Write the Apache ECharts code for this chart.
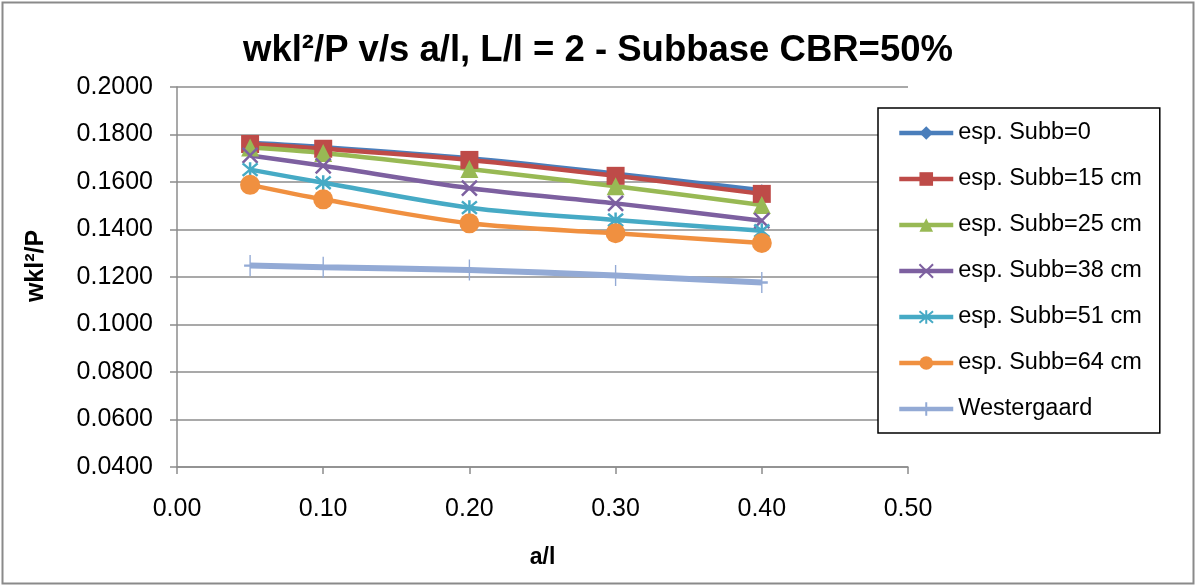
<!DOCTYPE html>
<html>
<head>
<meta charset="utf-8">
<title>wkl²/P v/s a/l</title>
<script src="https://cdn.jsdelivr.net/npm/echarts@6/dist/echarts.min.js"></script>
<style>
  html, body { margin: 0; padding: 0; background: #fff; }
  #chart { width: 1196px; height: 586px; }
</style>
</head>
<body>
<div id="chart"></div>
<script>
// a/l ratios where each subbase thickness was evaluated
const ratios = [0.05, 0.10, 0.20, 0.30, 0.40];

// wkl²/P for each subbase thickness, plus Westergaard's solution
const subb0  = [0.1765, 0.1747, 0.1700, 0.1635, 0.1565];
const subb15 = [0.1760, 0.1740, 0.1693, 0.1626, 0.1550];
const subb25 = [0.1745, 0.1722, 0.1655, 0.1582, 0.1503];
const subb38 = [0.1712, 0.1668, 0.1574, 0.1510, 0.1437];
const subb51 = [0.1652, 0.1597, 0.1492, 0.1440, 0.1395];
const subb64 = [0.1588, 0.1527, 0.1426, 0.1384, 0.1343];
const westergaard = [0.1248, 0.1241, 0.1229, 0.1206, 0.1177];

const seriesNames = [
  'esp. Subb=0', 'esp. Subb=15 cm', 'esp. Subb=25 cm', 'esp. Subb=38 cm',
  'esp. Subb=51 cm', 'esp. Subb=64 cm', 'Westergaard'
];
const seriesValues = [subb0, subb15, subb25, subb38, subb51, subb64, westergaard];

// axis ranges
const yMin = 0.04, yMax = 0.20, yStep = 0.02;
const xMin = 0.00, xMax = 0.50, xStep = 0.10;

const FONT = '"Liberation Sans", Arial, sans-serif';

// marker look per series
const looks = [
  { color: '#4A7EBB', symbol: 'diamond', size: 12, width: 4.5 },
  { color: '#BE4B48', symbol: 'rect', size: 18, width: 4.5 },
  { color: '#98B954', symbol: 'triangle', size: 18, width: 4.5 },
  { color: '#7D60A0', symbol: 'path://M0,0L10,10M10,0L0,10', size: 15, width: 4.5, stroke: 2.5 },
  { color: '#46AAC5', symbol: 'path://M0,0L10,10M10,0L0,10M5,-1L5,11', size: 15, width: 4.5, stroke: 2.5 },
  { color: '#F09040', symbol: 'circle', size: 20, width: 4.5 },
  { color: '#93AAD5', symbol: 'path://M5,0L5,20M0,10L10,10', size: [12, 21], width: 6, stroke: 1.8 }
];

const series = seriesNames.map((name, i) => {
  const look = looks[i];
  const itemStyle = { color: look.color };
  if (look.stroke) {
    itemStyle.borderColor = look.color;
    itemStyle.borderWidth = look.stroke;
  }
  return {
    name: name,
    type: 'line',
    smooth: 0.3,
    data: ratios.map((r, k) => [r, seriesValues[i][k]]),
    symbol: look.symbol,
    symbolSize: look.size,
    showAllSymbol: true,
    lineStyle: { color: look.color, width: look.width },
    itemStyle: itemStyle,
    emphasis: { disabled: true }
  };
});

const chart = echarts.init(document.getElementById('chart'), null, { renderer: 'canvas' });

chart.setOption({
  animation: false,
  backgroundColor: '#ffffff',
  textStyle: { fontFamily: FONT },
  title: {
    text: 'wkl²/P v/s a/l, L/l = 2 - Subbase CBR=50%',
    left: 'center',
    top: 27,
    textStyle: { fontFamily: FONT, fontSize: 36.5, fontWeight: 'bold', color: '#000' }
  },
  grid: { left: 177, right: 288, top: 87, bottom: 119 },
  xAxis: {
    type: 'value',
    min: xMin, max: xMax, interval: xStep,
    name: 'a/l',
    nameLocation: 'middle',
    nameGap: 79,
    nameTextStyle: { fontFamily: FONT, fontSize: 23, fontWeight: 'bold', color: '#000' },
    axisLine: { show: true, onZero: false, lineStyle: { color: '#8c8c8c', width: 1.5 } },
    axisTick: { show: true, inside: false, length: 7, lineStyle: { color: '#8c8c8c', width: 1.5 } },
    axisLabel: {
      margin: 30, fontSize: 25, color: '#000', fontFamily: FONT,
      formatter: v => v.toFixed(2)
    },
    splitLine: { show: false }
  },
  yAxis: {
    type: 'value',
    min: yMin, max: yMax, interval: yStep,
    axisLine: { show: true, lineStyle: { color: '#8c8c8c', width: 1.5 } },
    axisTick: { show: true, inside: false, length: 7, lineStyle: { color: '#8c8c8c', width: 1.5 } },
    axisLabel: {
      margin: 24, fontSize: 25, color: '#000', fontFamily: FONT,
      formatter: v => v.toFixed(4)
    },
    splitLine: { show: true, lineStyle: { color: '#8c8c8c', width: 1.5 } }
  },
  legend: {
    orient: 'vertical',
    left: 878,
    top: 108,
    padding: [13, 18, 12, 19],
    itemWidth: 54,
    itemHeight: 17,
    itemGap: 22,
    backgroundColor: '#fff',
    borderColor: '#000',
    borderWidth: 1.5,
    borderRadius: 0,
    selectedMode: false,
    lineStyle: { width: 4.5 },
    textStyle: { fontFamily: FONT, fontSize: 23.5, lineHeight: 24, color: '#000' },
    data: seriesNames
  },
  graphic: [
    {
      type: 'rect',
      silent: true,
      shape: { x: 2.5, y: 2.5, width: 1191, height: 581 },
      style: { fill: null, stroke: '#8a8a8a', lineWidth: 2 },
      z: 100
    },
    {
      type: 'text',
      silent: true,
      x: 36, y: 266,
      rotation: Math.PI / 2,
      style: {
        text: 'wkl²/P',
        fontFamily: FONT, fontSize: 25, fontWeight: 'bold', fill: '#000',
        align: 'center', verticalAlign: 'middle'
      }
    }
  ],
  series: series
});
</script>
</body>
</html>
